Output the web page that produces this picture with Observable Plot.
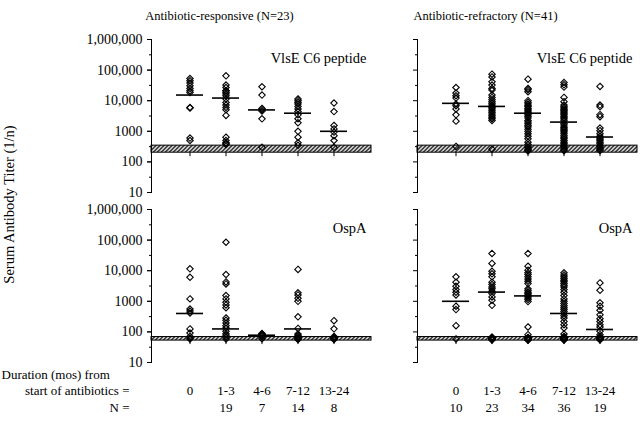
<!DOCTYPE html>
<html><head><meta charset="utf-8">
<script src="https://cdn.jsdelivr.net/npm/d3@7"></script>
<script src="https://cdn.jsdelivr.net/npm/@observablehq/plot@0.6"></script>
<style>body{margin:0;background:#fff} #chart{width:640px;height:428px}</style>
</head><body><div id="chart"></div>
<script>
const durations = ["0", "1-3", "4-6", "7-12", "13-24"];
const groups = ["Antibiotic-responsive (N=23)", "Antibiotic-refractory (N=41)"];
const antigens = ["VlsE C6 peptide", "OspA"];
const nLabels = [["", "19", "7", "14", "8"], ["10", "23", "34", "36", "19"]];
const tickValues = [10, 100, 1000, 10000, 100000, 1000000];
const tickLabels = ["10", "100", "1000", "10,000", "100,000", "1,000,000"];
const minorTicks = [31.6, 316, 3162, 31623, 316228];
const bandLow = [200, 52];
const bandHigh = [340, 68];
const yLabel = "Serum Antibody Titer (1/n)";
const bottomLabels = ["Duration (mos) from", "start of antibiotics =", "N ="];

// VlsE C6 peptide, antibiotic-responsive: one list per duration column
const vlsResp = [
  [53000, 44600, 37600, 30700, 25100, 21100, 18600, 6000, 5800, 600, 500],
  [65000, 32400, 27000, 21000, 21000, 18600, 16500, 14500, 11400, 8800, 7200, 6000, 5100, 3300, 640, 500, 420, 400, 370],
  [28500, 15300, 5600, 5100, 4600, 2550, 300],
  [11400, 10000, 8800, 7800, 6500, 5400, 4400, 3450, 2570, 1900, 1000, 640, 420, 350],
  [8400, 4400, 1550, 1200, 940, 720, 500, 300]
];
// VlsE C6 peptide, antibiotic-refractory
const vlsRefr = [
  [27000, 17800, 14500, 12200, 7800, 6900, 5400, 3450, 2150, 320],
  [73500, 60000, 41400, 32400, 25100, 22300, 15300, 12800, 10800, 9300, 8200, 7200, 6500, 5900, 5400, 4700, 4160, 3700, 3250, 2880, 2570, 2250, 260],
  [50600, 25100, 22700, 19600, 10000, 8800, 7800, 6900, 6300, 5600, 5100, 4600, 4200, 3800, 3450, 3100, 2700, 2250, 2000, 1770, 1560, 1380, 1160, 990, 830, 690, 570, 440, 370, 310, 290, 260, 240, 225],
  [39000, 33000, 27900, 12800, 9300, 7200, 6400, 5800, 5200, 4700, 4300, 3900, 3450, 3100, 2760, 2500, 2200, 1800, 1600, 1380, 1280, 1160, 1050, 940, 830, 720, 640, 570, 500, 440, 390, 350, 310, 280, 250, 230],
  [29200, 7200, 6300, 3500, 3000, 1280, 1050, 830, 690, 600, 550, 490, 440, 390, 340, 310, 280, 260, 235]
];
// OspA, antibiotic-responsive
const ospResp = [
  [11500, 6100, 1200, 560, 480, 415, 125, 92, 71, 63, 59],
  [85000, 7500, 4300, 3700, 1540, 1200, 930, 760, 620, 285, 240, 196, 160, 134, 105, 87, 77, 68, 59],
  [88, 85, 82, 80, 75, 70, 60],
  [11000, 1900, 1620, 1250, 1000, 310, 130, 85, 77, 71, 66, 61, 59, 56],
  [233, 126, 71, 66, 63, 60, 59, 56]
];
// OspA, antibiotic-refractory
const ospRefr = [
  [6300, 4200, 3100, 2420, 1970, 1620, 690, 535, 160, 59],
  [36500, 17300, 9600, 7900, 6300, 4200, 3530, 2960, 2550, 2130, 1790, 1390, 1080, 740, 68, 65, 62, 60, 58, 57, 56, 55, 55],
  [36500, 14000, 10400, 8500, 7500, 6300, 5400, 4530, 3800, 2550, 2250, 1970, 1790, 1620, 1460, 1290, 1140, 980, 145, 81, 66, 64, 62, 61, 60, 59, 58, 57, 57, 56, 56, 55, 55, 54],
  [8500, 7300, 6300, 5560, 4900, 4320, 3800, 3350, 2960, 2420, 1970, 1540, 1200, 1000, 840, 720, 620, 535, 460, 400, 340, 285, 220, 172, 134, 85, 71, 66, 63, 61, 60, 58, 57, 56, 55, 54],
  [4000, 2290, 890, 690, 510, 365, 270, 220, 172, 145, 105, 81, 71, 64, 62, 60, 58, 56, 55]
];
// medians (horizontal bars)
const vlsRespMed = [15300, 12200, 5000, 3900, 1000];
const vlsRefrMed = [8200, 6500, 3900, 2000, 650];
const ospRespMed = [400, 125, 78, 125, null];
const ospRefrMed = [1000, 2000, 1500, 400, 120];

const panelData = [[vlsResp, vlsRefr], [ospResp, ospRefr]];
const panelMed = [[vlsRespMed, vlsRefrMed], [ospRespMed, ospRefrMed]];

const points = [], medians = [], bands = [], bandTicks = [];
antigens.forEach((a, ai) => groups.forEach((g, gi) => {
  panelData[ai][gi].forEach((col, ci) => col.forEach(v => points.push({a, g, dur: durations[ci], v})));
  panelMed[ai][gi].forEach((m, ci) => { if (m != null) medians.push({a, g, dur: durations[ci], m}); });
  bands.push({a, g, lo: bandLow[ai], hi: bandHigh[ai]});
  durations.forEach(d => bandTicks.push({a, g, dur: d, lo: bandLow[ai]}));
}));
const titles = groups.map(g => ({g, a: antigens[0]}));
const panelLabels = [];
antigens.forEach(a => groups.forEach(g => panelLabels.push({a, g})));
const durLabels = [], nLabelData = [];
groups.forEach((g, gi) => durations.forEach((d, ci) => {
  durLabels.push({g, a: antigens[1], dur: d});
  nLabelData.push({g, a: antigens[1], dur: d, n: nLabels[gi][ci]});
}));
const leftBottom = [{g: groups[0], a: antigens[1]}];
const leftTop = [{g: groups[0], a: antigens[0]}];

const plot = Plot.plot({
  width: 640, height: 428,
  marginLeft: 150, marginRight: 2, marginTop: 38.5, marginBottom: 66,
  style: {fontFamily: "Liberation Serif", fontSize: "13px", background: "white", color: "black"},
  fx: {domain: groups, paddingInner: 0.172, paddingOuter: 0, axis: null},
  fy: {domain: antigens, paddingInner: 0.1, paddingOuter: 0, axis: null},
  x: {type: "band", domain: durations, paddingInner: 0.262, paddingOuter: 0.65, axis: null},
  y: {type: "log", domain: [10, 1e6]},
  marks: [
    Plot.rect(bands, {fx: "g", fy: "a", y1: "lo", y2: "hi", fill: "url(#hatch)", stroke: "black", strokeWidth: 1}),
    Plot.ruleX(bandTicks, {fx: "g", fy: "a", x: "dur", y1: "lo", y2: "lo", insetBottom: -4, stroke: "black"}),
    Plot.frame({anchor: "left"}),
    Plot.axisY(tickValues, {tickSize: 4, tickFormat: d => tickLabels[tickValues.indexOf(d)], fontSize: 14, label: null, facetAnchor: "left"}),
    Plot.axisY(tickValues, {tickSize: 4, tickFormat: () => "", label: null, facetAnchor: null}),
    Plot.axisY(minorTicks, {tickSize: 2, tickFormat: () => "", label: null, facetAnchor: null}),
    Plot.dot(points, {fx: "g", fy: "a", x: "dur", y: "v", symbol: "diamond2", r: 2.9, stroke: "black", fill: "none", strokeWidth: 1.1}),
    Plot.tickY(medians, {fx: "g", fy: "a", x: "dur", y: "m", stroke: "black", strokeWidth: 1.6}),
    Plot.text(titles, {fx: "g", fy: "a", text: "g", frameAnchor: "top", dx: -42, dy: -28.5, fontSize: 12.5}),
    Plot.text(panelLabels, {fx: "g", fy: "a", text: "a", frameAnchor: "top-right", textAnchor: "end", dx: -5, dy: 13.5, fontSize: 14.5}),
    Plot.text(durLabels, {fx: "g", fy: "a", x: "dur", text: "dur", frameAnchor: "bottom", dy: 32}),
    Plot.text(nLabelData, {fx: "g", fy: "a", x: "dur", text: "n", frameAnchor: "bottom", dy: 49}),
    Plot.text(leftBottom, {fx: "g", fy: "a", text: [bottomLabels[0]], frameAnchor: "bottom-left", textAnchor: "start", dx: -150, dy: 16}),
    Plot.text(leftBottom, {fx: "g", fy: "a", text: [bottomLabels[1]], frameAnchor: "bottom-left", textAnchor: "end", dx: -22, dy: 32}),
    Plot.text(leftBottom, {fx: "g", fy: "a", text: [bottomLabels[2]], frameAnchor: "bottom-left", textAnchor: "end", dx: -22, dy: 49}),
    Plot.text(leftTop, {fx: "g", fy: "a", text: [yLabel], frameAnchor: "bottom-left", textAnchor: "middle", rotate: -90, dx: -138, dy: 12, fontSize: 14.5})
  ]
});

const svg = d3.select(plot);
const defs = svg.insert("defs", ":first-child");
const pat = defs.append("pattern").attr("id", "hatch").attr("patternUnits", "userSpaceOnUse").attr("width", 4).attr("height", 4);
pat.append("rect").attr("width", 4).attr("height", 4).attr("fill", "white");
pat.append("path").attr("d", "M0,4 L4,0 M-1,1 L1,-1 M3,5 L5,3").attr("stroke", "black").attr("stroke-width", 1.3);
document.getElementById("chart").append(plot);
</script>
</body></html>
